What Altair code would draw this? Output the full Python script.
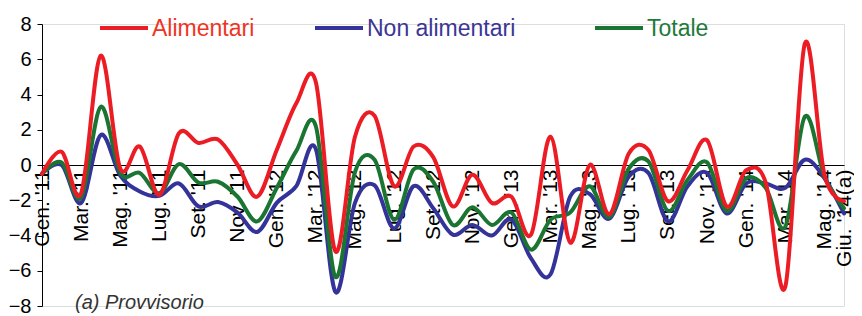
import json
import altair as alt
import pandas as pd

mesi = ["Gen.", "Feb.", "Mar.", "Apr.", "Mag.", "Giu.", "Lug.", "Ago.", "Set.", "Ott.", "Nov.", "Dic."]
anni = ["'11", "'12", "'13", "'14"]
etichette = [f"{m} {a}" for a in anni for m in mesi][:42]
etichette[-1] = etichette[-1] + "(a)"
tick_valori = list(range(0, 41, 2)) + [41]

serie = ["Alimentari", "Non alimentari", "Totale"]
colori = ["#ec1c24", "#33339a", "#1b7532"]
colori_testo = ["#ee3524", "#3c3694", "#1e7a3a"]

alimentari = [-0.5, 0.75, -1.6, 6.2, -0.2, 1.05, -1.7, 1.8, 1.25, 1.45, 0.0, -1.8,
              0.85, 3.5, 4.7, -4.9, 1.6, 2.8, -1.2, 1.05, 0.45, -2.35, -0.55, -2.15,
              -1.8, -3.95, 1.6, -4.4, 0.0, -2.8, 0.65, 0.85, -2.05, -0.3, 1.4, -2.35,
              -0.3, -1.0, -6.9, 6.9, -0.55, -2.05]
non_alimentari = [-0.5, 0.0, -2.15, 1.7, -0.6, -1.5, -1.75, -1.05, -2.35, -2.1, -2.7, -3.8,
                  -2.15, -1.2, 0.9, -7.2, -2.15, -1.15, -3.6, -1.2, -2.45, -3.95, -3.4, -4.0,
                  -3.1, -5.3, -6.2, -1.8, -1.65, -3.05, -0.65, -0.45, -3.2, -1.2, -0.45, -2.75,
                  -1.05, -1.05, -1.3, 0.3, -0.75, -2.75]
totale = [-0.5, 0.15, -1.85, 3.3, -0.45, -0.45, -1.6, 0.05, -1.0, -0.95, -1.8, -3.2,
          -1.3, 0.8, 2.2, -6.35, -0.4, 0.3, -3.1, -0.25, -0.95, -3.4, -2.4, -3.4,
          -2.7, -4.8, -3.1, -2.7, -1.2, -2.95, -0.2, 0.2, -2.6, -0.85, 0.15, -2.6,
          -0.75, -1.3, -3.5, 2.75, -0.65, -2.45]

nota = "(a) Provvisorio"
FONT = "Liberation Sans"

# legend layout (pixels within plot area)
leg_sym_x = [58, 273, 553]
leg_sym_len = 48
leg_y = 4

righe = []
for nome, valori in zip(serie, [alimentari, non_alimentari, totale]):
    for i, v in enumerate(valori):
        righe.append({"mese": i, "valore": v, "serie": nome})
df = pd.DataFrame(righe)

label_expr = json.dumps(etichette) + "[datum.value]"

base = alt.Chart(df).encode(
    x=alt.X("mese:Q",
            scale=alt.Scale(domain=[0, 41], nice=False, zero=False),
            axis=alt.Axis(values=tick_valori, labelExpr=label_expr, title=None,
                          labelAngle=270, labelAlign="right", labelBaseline="middle",
                          labelPadding=4, ticks=False, grid=False, offset=-141,
                          labelOverlap=False, labelFlush=False, labelBound=False,
                          labelFontSize=21, labelFont=FONT, labelColor="black",
                          domainColor="black", domainWidth=1)),
    y=alt.Y("valore:Q",
            scale=alt.Scale(domain=[-8, 8], nice=False),
            axis=alt.Axis(values=list(range(-8, 9, 2)), title=None, grid=False,
                          tickSize=5, tickColor="black", domainColor="black",
                          labelPadding=6, labelFontSize=20, labelFont=FONT,
                          labelColor="black")),
    color=alt.Color("serie:N", scale=alt.Scale(domain=serie, range=colori), legend=None),
)


def linea(nome):
    return base.transform_filter(alt.datum.serie == nome).mark_line(
        interpolate="cardinal", strokeWidth=4, strokeCap="round", strokeJoin="round")


def voce_legenda(i):
    d = pd.DataFrame({"t": [serie[i]]})
    sym = alt.Chart(d).mark_rule(strokeWidth=4, color=colori[i]).encode(
        x=alt.value(leg_sym_x[i]), x2=alt.value(leg_sym_x[i] + leg_sym_len),
        y=alt.value(leg_y))
    txt = alt.Chart(d).mark_text(align="left", baseline="middle", fontSize=23, font=FONT,
                                 color=colori_testo[i]).encode(
        x=alt.value(leg_sym_x[i] + leg_sym_len + 4), y=alt.value(leg_y + 1), text="t:N")
    return sym + txt


nota_layer = alt.Chart(pd.DataFrame({"t": [nota]})).mark_text(
    align="left", baseline="middle", fontStyle="italic", fontSize=20, font=FONT,
    color="#333333").encode(x=alt.value(33), y=alt.value(279), text="t:N")

chart = alt.layer(
    linea("Non alimentari"), linea("Totale"), linea("Alimentari"), nota_layer,
    voce_legenda(0), voce_legenda(1), voce_legenda(2)
).properties(
    width=802, height=282,
    autosize=alt.AutoSizeParams(type="none"),
    padding={"left": 34, "top": 16, "right": 10, "bottom": 10},
).configure_view(stroke=None).configure(background="white")

chart.save("out.html", embed_options={"renderer": "svg", "actions": False})
